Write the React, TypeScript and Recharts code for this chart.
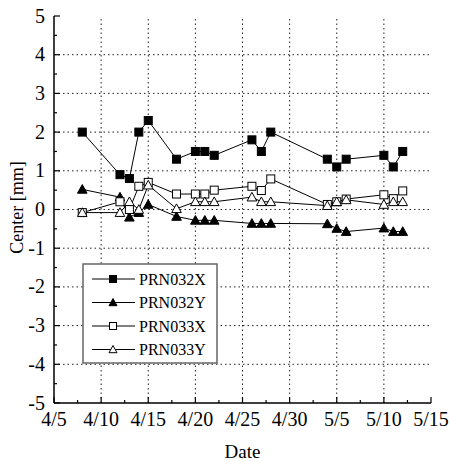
import React from 'react';
import { ComposedChart, Line, XAxis, YAxis, ReferenceLine } from 'recharts';

const dates = ['4/8','4/12','4/13','4/14','4/15','4/18','4/20','4/21','4/22','4/26','4/27','4/28','5/4','5/5','5/6','5/10','5/11','5/12'];
const prn032x = [2.0,0.9,0.8,2.0,2.3,1.3,1.5,1.5,1.4,1.8,1.5,2.0,1.3,1.1,1.3,1.4,1.1,1.5];
const prn032y = [0.52,0.32,-0.2,-0.08,0.13,-0.18,-0.28,-0.28,-0.28,-0.36,-0.36,-0.36,-0.37,-0.49,-0.57,-0.48,-0.57,-0.57];
const prn033x = [-0.08,0.2,0.0,0.6,0.7,0.4,0.4,0.4,0.5,0.6,0.49,0.79,0.13,0.2,0.27,0.38,0.28,0.48];
const prn033y = [-0.08,-0.08,0.2,0.0,0.63,0.02,0.2,0.2,0.2,0.32,0.2,0.2,0.1,0.2,0.25,0.13,0.2,0.2];

const xTickLabels = ['4/5','4/10','4/15','4/20','4/25','4/30','5/5','5/10','5/15'];
const yTickLabels = ['-5','-4','-3','-2','-1','0','1','2','3','4','5'];
const xMinorTicks = [0,2.5,5,7.5,10,12.5,15,17.5,20,22.5,25,27.5,30,32.5,35,37.5,40];
const yMinorTicks = [-5,-4.5,-4,-3.5,-3,-2.5,-2,-1.5,-1,-0.5,0,0.5,1,1.5,2,2.5,3,3.5,4,4.5,5];
const xGrid = [5,10,15,20,25,30,35];
const yGrid = [-4,-3,-2,-1,0,1,2,3,4];

const seriesNames = ['PRN032X','PRN032Y','PRN033X','PRN033Y'];

// day offset from 4/5
const dayOf = (s: string) => {
  const [m, d] = s.split('/').map(Number);
  return m === 4 ? d - 5 : 25 + d;
};

const data = dates.map((d, i) => ({
  day: dayOf(d),
  a: prn032x[i],
  b: prn032y[i],
  c: prn033x[i],
  e: prn033y[i],
}));

const FONT = 'Liberation Serif, Tinos, Times New Roman, DejaVu Serif, serif';
const fs = (size: number) => ({ fontFamily: FONT, fontSize: size });

const Square = ({ cx, cy, filled, s = 4 }: any) => (
  <rect x={cx - s} y={cy - s} width={2 * s} height={2 * s} fill={filled ? '#000' : '#fff'} stroke="#000" strokeWidth={1} />
);
const Tri = ({ cx, cy, filled, s = 4.8 }: any) => (
  <polygon
    points={`${cx},${cy - s} ${cx + s},${cy + s * 0.8} ${cx - s},${cy + s * 0.8}`}
    fill={filled ? '#000' : '#fff'}
    stroke="#000"
    strokeWidth={1}
    strokeLinejoin="miter"
  />
);

const XBottomTick = ({ x, y, payload }: any) => {
  const v = payload.value;
  const major = Math.abs(v % 5) < 1e-6;
  return (
    <g>
      <line x1={x} x2={x} y1={y} y2={y - (major ? 6 : 3)} stroke="#000" strokeWidth={1.2} />
      {major && (
        <text x={x} y={y + 23} textAnchor="middle" style={fs(20)} fill="#000">
          {xTickLabels[Math.round(v / 5)]}
        </text>
      )}
    </g>
  );
};
const XTopTick = ({ x, y, payload }: any) => {
  const v = payload.value;
  const major = Math.abs(v % 5) < 1e-6;
  return <line x1={x} x2={x} y1={y} y2={y + (major ? 6 : 3)} stroke="#000" strokeWidth={1.2} />;
};
const YLeftTick = ({ x, y, payload }: any) => {
  const v = payload.value;
  const major = Math.abs(v - Math.round(v)) < 1e-6;
  return (
    <g>
      <line x1={x} x2={x + (major ? 6 : 3)} y1={y} y2={y} stroke="#000" strokeWidth={1.2} />
      {major && (
        <text x={x - 9} y={y + 6.5} textAnchor="end" style={fs(20)} fill="#000">
          {yTickLabels[Math.round(v) + 5]}
        </text>
      )}
    </g>
  );
};
const YRightTick = ({ x, y, payload }: any) => {
  const v = payload.value;
  const major = Math.abs(v - Math.round(v)) < 1e-6;
  return <line x1={x} x2={x - (major ? 6 : 3)} y1={y} y2={y} stroke="#000" strokeWidth={1.2} />;
};

const LegendBox = () => {
  const rows = [
    { name: seriesNames[0], m: (cx: number, cy: number) => <Square cx={cx} cy={cy} filled s={3.5} /> },
    { name: seriesNames[1], m: (cx: number, cy: number) => <Tri cx={cx} cy={cy} filled s={4} /> },
    { name: seriesNames[2], m: (cx: number, cy: number) => <Square cx={cx} cy={cy} s={3.5} /> },
    { name: seriesNames[3], m: (cx: number, cy: number) => <Tri cx={cx} cy={cy} s={4} /> },
  ];
  const ys = [16, 39.5, 63, 86.5];
  return (
    <svg width={136} height={101} style={{ position: 'absolute', left: 82, top: 263 }}>
      <rect x={1} y={1} width={134} height={99} fill="#fff" stroke="#666" strokeWidth={1.5} />
      {rows.map((r, i) => (
        <g key={r.name}>
          <line x1={10} x2={53} y1={ys[i]} y2={ys[i]} stroke="#000" strokeWidth={1} />
          {r.m(31, ys[i])}
          <text x={57} y={ys[i] + 5.5} style={fs(16)} fill="#000">{r.name}</text>
        </g>
      ))}
    </svg>
  );
};

export default function App() {
  return (
    <div style={{ position: 'absolute', left: 0, top: 0, width: 450, height: 461, background: '#fff' }}>
      <ComposedChart width={450} height={461} data={data} margin={{ top: 16, right: 19, bottom: 0, left: 0 }}>
        <XAxis
          xAxisId="bottom"
          dataKey="day"
          type="number"
          domain={[0, 40]}
          ticks={xMinorTicks}
          interval={0}
          tickSize={0}
          tickMargin={0}
          height={58}
          allowDataOverflow
          axisLine={{ stroke: '#000', strokeWidth: 1.5 }}
          tickLine={false}
          tick={<XBottomTick />}
          label={{
            content: ({ viewBox }: any) => (
              <text x={viewBox.x + viewBox.width / 2} y={viewBox.y + 55} textAnchor="middle" style={fs(19)} fill="#000">
                Date
              </text>
            ),
          }}
        />
        <XAxis
          xAxisId="top"
          orientation="top"
          dataKey="day"
          type="number"
          domain={[0, 40]}
          ticks={xMinorTicks}
          interval={0}
          tickSize={0}
          tickMargin={0}
          height={0}
          allowDataOverflow
          axisLine={{ stroke: '#000', strokeWidth: 1.5 }}
          tickLine={false}
          tick={<XTopTick />}
        />
        <YAxis
          yAxisId="left"
          type="number"
          domain={[-5, 5]}
          ticks={yMinorTicks}
          interval={0}
          tickSize={0}
          tickMargin={0}
          width={54}
          allowDataOverflow
          axisLine={{ stroke: '#000', strokeWidth: 1.5 }}
          tickLine={false}
          tick={<YLeftTick />}
          label={{
            content: ({ viewBox }: any) => {
              const cx = 23;
              const cy = viewBox.y + viewBox.height / 2 - 2;
              return (
                <text x={cx} y={cy} transform={`rotate(-90 ${cx} ${cy})`} textAnchor="middle" style={fs(18)} fill="#000">
                  Center [mm]
                </text>
              );
            },
          }}
        />
        <YAxis
          yAxisId="right"
          orientation="right"
          type="number"
          domain={[-5, 5]}
          ticks={yMinorTicks}
          interval={0}
          tickSize={0}
          tickMargin={0}
          width={0}
          allowDataOverflow
          axisLine={{ stroke: '#000', strokeWidth: 1.5 }}
          tickLine={false}
          tick={<YRightTick />}
        />
        {xGrid.map((v) => (
          <ReferenceLine key={'gx' + v} x={v} xAxisId="bottom" yAxisId="left" stroke="#222" strokeWidth={1} strokeDasharray="1.5 3" />
        ))}
        {yGrid.map((v) => (
          <ReferenceLine key={'gy' + v} y={v} xAxisId="bottom" yAxisId="left" stroke="#222" strokeWidth={1} strokeDasharray="1.5 3" />
        ))}
        <Line xAxisId="bottom" yAxisId="left" dataKey="a" name={seriesNames[0]} stroke="#000" strokeWidth={1} isAnimationActive={false}
          dot={(p: any) => <Square key={'a' + p.index} cx={p.cx} cy={p.cy} filled />} />
        <Line xAxisId="bottom" yAxisId="left" dataKey="b" name={seriesNames[1]} stroke="#000" strokeWidth={1} isAnimationActive={false}
          dot={(p: any) => <Tri key={'b' + p.index} cx={p.cx} cy={p.cy} filled />} />
        <Line xAxisId="bottom" yAxisId="left" dataKey="c" name={seriesNames[2]} stroke="#000" strokeWidth={1} isAnimationActive={false}
          dot={(p: any) => <Square key={'c' + p.index} cx={p.cx} cy={p.cy} />} />
        <Line xAxisId="bottom" yAxisId="left" dataKey="e" name={seriesNames[3]} stroke="#000" strokeWidth={1} isAnimationActive={false}
          dot={(p: any) => <Tri key={'e' + p.index} cx={p.cx} cy={p.cy} />} />
      </ComposedChart>
      <LegendBox />
    </div>
  );
}
